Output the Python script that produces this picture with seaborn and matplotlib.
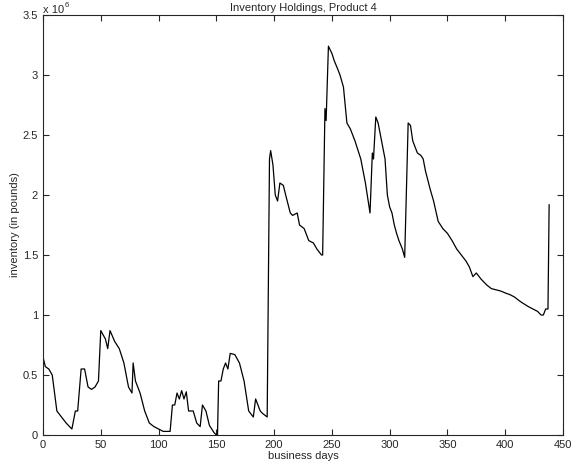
import matplotlib
matplotlib.use("Agg")
import matplotlib.pyplot as plt
import seaborn as sns
import pandas as pd

days = [0,2,5,8,12,16,20,25,28,30,33,36,39,42,45,48,50,54,56,58,62,66,70,74,77,78,80,84,88,92,96,100,104,110,112,114,116,118,120,122,124,126,130,133,136,138,141,144,148,150,151,152,154,156,158,160,162,166,170,174,178,182,184,186,188,190,194,196,197,199,201,203,205,208,210,214,216,220,222,226,230,234,237,241,242,244,245,247,250,252,255,257,260,263,266,270,275,279,283,285,286,288,290,294,296,298,300,302,304,306,308,311,313,316,318,320,324,327,329,331,335,338,342,346,350,354,358,362,366,369,372,375,379,384,388,392,396,401,404,408,412,415,420,424,428,431,433,435,437,438]
inventory = [0.65,0.57,0.55,0.5,0.2,0.15,0.1,0.05,0.2,0.2,0.55,0.55,0.4,0.38,0.4,0.45,0.87,0.8,0.72,0.87,0.78,0.72,0.6,0.4,0.35,0.6,0.45,0.35,0.2,0.1,0.07,0.05,0.03,0.03,0.25,0.25,0.35,0.3,0.37,0.3,0.36,0.2,0.2,0.1,0.07,0.25,0.2,0.08,0.02,0.0,0.0,0.45,0.45,0.55,0.6,0.55,0.68,0.67,0.6,0.45,0.2,0.15,0.3,0.25,0.2,0.18,0.15,2.3,2.37,2.25,2.0,1.95,2.1,2.08,2.0,1.85,1.83,1.85,1.75,1.72,1.62,1.6,1.55,1.5,1.5,2.72,2.62,3.24,3.18,3.12,3.05,3.0,2.9,2.6,2.55,2.45,2.3,2.1,1.85,2.35,2.3,2.65,2.6,2.4,2.3,2.0,1.9,1.85,1.75,1.68,1.62,1.55,1.48,2.6,2.58,2.45,2.35,2.33,2.3,2.2,2.05,1.95,1.78,1.72,1.68,1.62,1.55,1.5,1.45,1.4,1.32,1.35,1.3,1.25,1.22,1.21,1.2,1.18,1.17,1.15,1.12,1.1,1.07,1.05,1.03,1.0,1.0,1.05,1.05,1.92]

df = pd.DataFrame({"day": days, "inv": inventory})

sns.set_style("ticks")
plt.rcParams["font.family"] = ["Liberation Sans", "DejaVu Sans"]

fig = plt.figure(figsize=(5.77, 4.73), dpi=100)
ax = fig.add_axes([43/577, 1-435/473, 520/577, 420/473])
sns.lineplot(data=df, x="day", y="inv", color="black", linewidth=0.9, ax=ax)
ax.set_xlim(0, 450)
ax.set_ylim(0, 3.5)
ax.set_xticks(range(0, 451, 50))
ax.set_yticks([i * 0.5 for i in range(8)])
ax.set_yticklabels(["0", "0.5", "1", "1.5", "2", "2.5", "3", "3.5"])
ax.tick_params(labelsize=8, top=True, right=True, length=4, direction="in")
ax.text(0, 1.0, "x 10", transform=ax.transAxes, fontsize=8, va="bottom", ha="left")
ax.text(0.042, 1.014, "6", transform=ax.transAxes, fontsize=5.5, va="bottom", ha="left")
ax.set_xlabel("business days", fontsize=8, labelpad=1)
ax.set_ylabel("inventory (in pounds)", fontsize=8, labelpad=2)
ax.set_title("Inventory Holdings, Product 4", fontsize=8, pad=3)
for s in ax.spines.values():
    s.set_linewidth(0.8)
fig.savefig("out.png", dpi=100)
